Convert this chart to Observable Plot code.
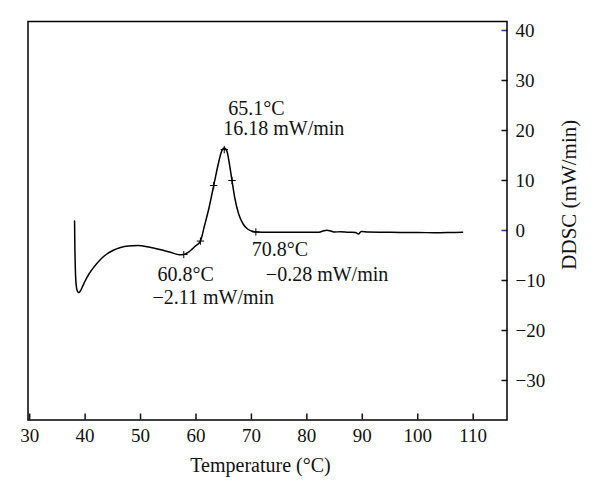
<!DOCTYPE html>
<html><head><meta charset="utf-8">
<script src="https://cdn.jsdelivr.net/npm/d3@7"></script>
<script src="https://cdn.jsdelivr.net/npm/@observablehq/plot@0.6"></script>
<style>body{margin:0;background:#fff;} #chart svg{display:block;}</style>
</head><body><div id="chart"></div>
<script>
// DDSC curve (temperature in °C, DDSC in mW/min)
const temperature = [38.1, 38.15, 38.25, 38.4, 38.6, 38.85, 39.1, 39.5, 40.0, 40.7, 41.6, 42.6, 43.8, 45.0, 46.4, 47.8, 49.5, 51.5, 53.5, 55.5, 57.0, 57.8, 58.8, 59.8, 60.8, 61.5, 62.3, 63.2, 64.0, 64.6, 65.1, 65.6, 66.0, 66.5, 67.0, 67.7, 68.5, 69.3, 70.0, 70.8, 73, 76, 79, 82, 82.8, 83.6, 84.3, 85, 86, 87.5, 88.8, 89.3, 89.8, 91, 94, 97, 100, 103, 106, 108.1];
const ddsc = [1.9, -3, -8, -11, -12.1, -12.4, -12.2, -11.3, -10.1, -8.7, -7.3, -6.0, -4.8, -4.0, -3.4, -3.1, -3.0, -3.3, -3.8, -4.4, -4.85, -4.8, -4.2, -3.2, -2.11, 0.8, 4.3, 9.0, 13.2, 15.8, 16.5, 15.8, 13.5, 10.0, 6.5, 3.3, 1.3, 0.3, -0.1, -0.28, -0.35, -0.35, -0.35, -0.35, -0.15, 0.05, -0.1, -0.3, -0.25, -0.35, -0.4, -0.7, -0.2, -0.3, -0.35, -0.4, -0.4, -0.45, -0.4, -0.35];

// small "+" markers on the curve
const markerTemp = [57.8, 60.8, 63.2, 65.1, 66.5, 70.8];
const markerDdsc = [-4.8, -2.11, 9.0, 16.18, 10.0, -0.28];

// annotations: anchor point + text lines
const annotationTemp = [65.1, 65.1, 60.8, 60.8, 70.8, 70.8];
const annotationDdsc = [16.18, 16.18, -2.11, -2.11, -0.28, -0.28];
const annotationText = ["65.1°C", "16.18 mW/min", "60.8°C", "−2.11 mW/min", "70.8°C", "−0.28 mW/min"];

const xTicks = [30, 40, 50, 60, 70, 80, 90, 100, 110];
const yTicks = [-30, -20, -10, 0, 10, 20, 30, 40];
const yTicksBlue = [0, 40];

const xLabel = "Temperature (°C)";
const yLabel = "DDSC (mW/min)";

// layout (pixel offsets for the annotation lines)
const annOffsets = [[4, -41.5], [-1, -21], [-43, 33.5], [-48, 56.5], [-4, 17.5], [10, 42.5]];

const curve = temperature.map((t, i) => ({t, v: ddsc[i]}));
const markers = markerTemp.map((t, i) => ({t, v: markerDdsc[i]}));
const annotations = annotationText.map((s, i) => ({t: annotationTemp[i], v: annotationDdsc[i], s, dx: annOffsets[i][0], dy: annOffsets[i][1]}));

const font = "'Liberation Serif', 'Times New Roman', serif";
const blue = "#2e3192";

const plot = Plot.plot({
  width: 600,
  height: 499,
  marginLeft: 27.5,
  marginRight: 93.5,
  marginTop: 21,
  marginBottom: 79.5,
  style: {fontFamily: font, fontSize: "19px", color: "#111", background: "#fff"},
  x: {domain: [29.7, 116.1]},
  y: {domain: [-37.9, 41.8]},
  marks: [
    Plot.axisX({ticks: xTicks, tickSize: -6, text: null, strokeWidth: 1.5, label: null}),
    Plot.axisX({ticks: xTicks, tickSize: 0, tickPadding: 8, fontSize: 19, label: null}),
    Plot.axisY({anchor: "right", ticks: yTicks.filter(d => !yTicksBlue.includes(d)), tickSize: -6, text: null, strokeWidth: 1.5, label: null}),
    Plot.axisY({anchor: "right", ticks: yTicksBlue, tickSize: -6, text: null, stroke: blue, strokeWidth: 1.5, label: null}),
    Plot.axisY({anchor: "right", ticks: yTicks, tickSize: 0, tickPadding: 8.5, textAnchor: "start", fontSize: 19, label: null}),
    Plot.frame({stroke: "#000", strokeWidth: 1.5}),
    Plot.line(curve, {x: "t", y: "v", stroke: "#000", strokeWidth: 1.5, curve: "monotone-x"}),
    Plot.dot(markers, {x: "t", y: "v", symbol: "plus", r: 2.5, stroke: "#000", strokeWidth: 1}),
    ...annotations.map(a => Plot.text([a], {x: "t", y: "v", text: "s", textAnchor: "start", lineAnchor: "middle", dx: a.dx, dy: a.dy, fontSize: 20, fill: "#111"})),
    Plot.text([xLabel], {frameAnchor: "bottom", text: d => d, textAnchor: "middle", dx: -7, dy: 46, lineAnchor: "middle", fontSize: 20, fill: "#111"}),
    Plot.text([yLabel], {frameAnchor: "right", text: d => d, textAnchor: "middle", dx: 62, dy: -26, rotate: -90, lineAnchor: "middle", fontSize: 21, fill: "#111"})
  ]
});
document.getElementById("chart").appendChild(plot);
</script>
</body></html>
